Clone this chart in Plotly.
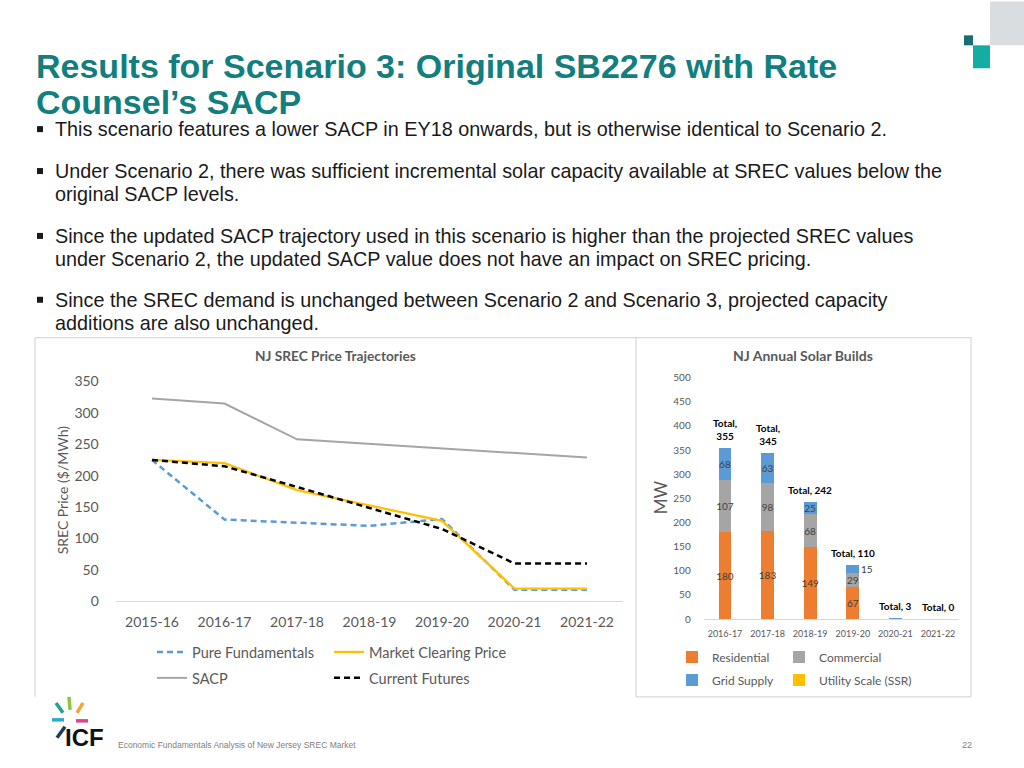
import plotly.graph_objects as go

W, H = 1024, 768
# observed page-to-screenshot vertical mapping of the harness: y_screen = A*y + B
A, B = 0.98, 7.6


def px(x):
    return x / W


def py(y):
    return 1 - ((y - B) / A) / H


# ---------------- data ----------------
price_years = ["2015-16", "2016-17", "2017-18", "2018-19", "2019-20", "2020-21", "2021-22"]
pure_fundamentals = [225, 130, 125, 120, 131, 18, 18]
market_clearing = [225, 220, 177, 153, 128, 20, 20]
sacp = [323, 315, 258, 251, 244, 237, 229]
current_futures = [225, 215, 182, 149, 115, 60, 60]

build_years = ["2016-17", "2017-18", "2018-19", "2019-20", "2020-21", "2021-22"]
residential = [180, 183, 149, 67, 0, 0]
commercial = [107, 98, 68, 29, 0, 0]
grid_supply = [68, 63, 25, 15, 3, 0]
utility_scale = [0, 0, 0, 0, 0, 0]
totals = [355, 345, 242, 110, 3, 0]

title_lines = ["Results for Scenario 3: Original SB2276 with Rate", "Counsel\u2019s SACP"]
bullets = [
    ["This scenario features a lower SACP in EY18 onwards, but is otherwise identical to Scenario 2."],
    ["Under Scenario 2, there was sufficient incremental solar capacity available at SREC values below the",
     "original SACP levels."],
    ["Since the updated SACP trajectory used in this scenario is higher than the projected SREC values",
     "under Scenario 2, the updated SACP value does not have an impact on SREC pricing."],
    ["Since the SREC demand is unchanged between Scenario 2 and Scenario 3, projected capacity",
     "additions are also unchanged."],
]

CH_FONT = "Lato, Calibri, sans-serif"
PAGE_FONT = "Liberation Sans, Arial, sans-serif"
GREY_TXT = "#595959"

fig = go.Figure()

# ---------------- left chart: price lines ----------------
fig.add_trace(go.Scatter(x=price_years, y=sacp, name="SACP", mode="lines",
                         line=dict(color="#A5A5A5", width=2), legend="legend2",
                         xaxis="x", yaxis="y"))
fig.add_trace(go.Scatter(x=price_years, y=pure_fundamentals, name="Pure Fundamentals", mode="lines",
                         line=dict(color="#5B9BD5", width=2.5, dash="6px,4px"), legend="legend",
                         xaxis="x", yaxis="y"))
fig.add_trace(go.Scatter(x=price_years, y=market_clearing, name="Market Clearing Price", mode="lines",
                         line=dict(color="#FFC000", width=2.25), legend="legend",
                         xaxis="x", yaxis="y"))
fig.add_trace(go.Scatter(x=price_years, y=current_futures, name="Current Futures", mode="lines",
                         line=dict(color="#000000", width=2.5, dash="6px,4px"), legend="legend2",
                         xaxis="x", yaxis="y"))

# ---------------- right chart: stacked bars ----------------
def seg_text(vals, minv=20):
    return [str(v) if v >= minv else "" for v in vals]


bar_common = dict(xaxis="x2", yaxis="y2", textposition="inside", insidetextanchor="middle",
                  textangle=0, constraintext="none",
                  textfont=dict(family=CH_FONT, size=10, color="#404040"),
                  marker_line_width=0)
fig.add_trace(go.Bar(x=build_years, y=residential, name="Residential", marker_color="#ED7D31",
                     text=seg_text(residential), legend="legend3", legendwidth=62, **bar_common))
fig.add_trace(go.Bar(x=build_years, y=commercial, name="Commercial", marker_color="#A5A5A5",
                     text=seg_text(commercial), legend="legend3", legendwidth=120, **bar_common))
fig.add_trace(go.Bar(x=build_years, y=grid_supply, name="Grid Supply", marker_color="#5B9BD5",
                     text=seg_text(grid_supply), legend="legend4", legendwidth=62, **bar_common))
fig.add_trace(go.Bar(x=build_years, y=utility_scale, name="Utility Scale (SSR)", marker_color="#FFC000",
                     text=seg_text(utility_scale), legend="legend4", legendwidth=120, **bar_common))

annotations = []
stack_tops = [r + c + g + u for r, c, g, u in zip(residential, commercial, grid_supply, utility_scale)]
for yr, top, tot in zip(build_years, stack_tops, totals):
    txt = f"<b>Total,<br>{tot}</b>" if tot > 300 else f"<b>Total, {tot}</b>"
    annotations.append(dict(x=yr, y=top, xref="x2", yref="y2", text=txt, showarrow=False,
                            xanchor="center", yanchor="bottom", yshift=4,
                            font=dict(family=CH_FONT, size=10, color="#000000")))
# small grid-supply segment labelled beside its bar
for yr, r, c, g in zip(build_years, residential, commercial, grid_supply):
    if 10 <= g < 20:
        annotations.append(dict(x=yr, y=r + c + g / 2, xref="x2", yref="y2", text=str(g),
                                showarrow=False, xanchor="left", yanchor="middle", xshift=6,
                                font=dict(family=CH_FONT, size=10, color="#404040")))


def page_text(x, y, text, size, color, family=PAGE_FONT, xanchor="left", angle=0):
    return dict(x=px(x), y=py(y), xref="paper", yref="paper", text=text, showarrow=False,
                xanchor=xanchor, yanchor="middle", textangle=angle,
                font=dict(family=family, size=size, color=color))


# chart titles / axis titles
annotations += [
    page_text(335, 355, "<b>NJ SREC Price Trajectories</b>", 13.7, GREY_TXT, CH_FONT, "center"),
    page_text(62, 490, "SREC Price ($/MWh)", 14, GREY_TXT, CH_FONT, "center", -90),
    page_text(803, 355, "<b>NJ Annual Solar Builds</b>", 14, GREY_TXT, CH_FONT, "center"),
    page_text(660, 497, "MW", 17, GREY_TXT, CH_FONT, "center", -90),
]

# page title
for line, yc in zip(title_lines, [65, 101]):
    annotations.append(page_text(34, yc, f"<b>{line}</b>", 34, "#137E7E"))

# bullets
bullet_y = [[128], [170, 193], [235, 258], [299, 322]]
shapes = []
for lines, ys in zip(bullets, bullet_y):
    for line, yc in zip(lines, ys):
        annotations.append(page_text(53, yc, line, 19.8, "#1A1A1A"))
    shapes.append(dict(type="rect", xref="paper", yref="paper", x0=px(37), x1=px(43),
                       y0=py(ys[0] + 3), y1=py(ys[0] - 3), fillcolor="#1A1A1A", line_width=0))

# footer
annotations += [
    page_text(116, 745, "Economic Fundamentals Analysis of New Jersey SREC Market", 8.5, "#808080"),
    page_text(967, 745, "22", 9, "#808080", xanchor="center"),
    page_text(84, 738, "<b>ICF</b>", 24, "#111111", xanchor="center"),
]

# chart frames
frame = "#D0D0D0"
for (x0, y0, x1, y1) in [(35, 337, 35, 697), (35, 337, 971, 337), (636, 337, 636, 697),
                         (971, 337, 971, 697), (636, 697, 971, 697)]:
    shapes.append(dict(type="line", xref="paper", yref="paper", x0=px(x0), y0=py(y0),
                       x1=px(x1), y1=py(y1), line=dict(color=frame, width=1)))

# top-right decoration
shapes += [
    dict(type="rect", xref="paper", yref="paper", x0=px(990), x1=px(1024), y0=py(44), y1=py(0),
         fillcolor="#D9DDE0", line_width=0),
    dict(type="rect", xref="paper", yref="paper", x0=px(964), x1=px(973), y0=py(44), y1=py(34),
         fillcolor="#176E74", line_width=0),
    dict(type="rect", xref="paper", yref="paper", x0=px(973), x1=px(990), y0=py(67), y1=py(44),
         fillcolor="#13ADA3", line_width=0),
]

# ICF logo rays
for (x0, y0, x1, y1, col) in [(56, 703, 63, 713, "#1BA68F"), (69, 697, 70, 710, "#8CC63F"),
                              (83, 703, 77, 713, "#F4A533"), (52, 720, 64, 720, "#2BA8D8"),
                              (76, 721, 88, 721, "#E5418A"), (65, 727, 57, 738, "#1F3A5F")]:
    shapes.append(dict(type="line", xref="paper", yref="paper", x0=px(x0), y0=py(y0),
                       x1=px(x1), y1=py(y1), line=dict(color=col, width=3.5)))

legend_common = dict(orientation="h", xanchor="left", yanchor="middle", bgcolor="rgba(0,0,0,0)",
                     borderwidth=0, itemclick=False, itemdoubleclick=False, traceorder="normal")

fig.update_layout(
    width=W, height=H, margin=dict(l=0, r=0, t=0, b=0),
    paper_bgcolor="white", plot_bgcolor="white",
    barmode="stack", bargap=0.7,
    uniformtext=dict(minsize=10, mode="show"),
    xaxis=dict(domain=[px(115.75), px(623.25)], range=[-0.5, 6.5], type="category",
               showline=True, linecolor="#D9D9D9", linewidth=1, showgrid=False, zeroline=False,
               ticks="", ticklabelstandoff=8, anchor="y",
               tickfont=dict(family=CH_FONT, size=14, color=GREY_TXT)),
    yaxis=dict(domain=[py(601), py(381)], range=[0, 350], dtick=50, showgrid=False, zeroline=False,
               showline=False, ticks="", ticklabelstandoff=16, anchor="x",
               tickfont=dict(family=CH_FONT, size=14, color=GREY_TXT)),
    xaxis2=dict(domain=[px(703.7), px(959.3)], range=[-0.5, 5.5], type="category",
                showline=True, linecolor="#D9D9D9", linewidth=1, showgrid=False, zeroline=False,
                ticks="", ticklabelstandoff=6, anchor="y2",
                tickfont=dict(family=CH_FONT, size=9, color=GREY_TXT)),
    yaxis2=dict(domain=[py(619), py(377)], range=[0, 500], dtick=50, showgrid=False, zeroline=False,
                showline=False, ticks="", ticklabelstandoff=12, anchor="x2",
                tickfont=dict(family=CH_FONT, size=10, color=GREY_TXT)),
    legend=dict(x=px(152), y=py(652), entrywidth=132,
                font=dict(family=CH_FONT, size=14.5, color=GREY_TXT), **legend_common),
    legend2=dict(x=px(152), y=py(678), entrywidth=132,
                 font=dict(family=CH_FONT, size=14.5, color=GREY_TXT), **legend_common),
    legend3=dict(x=px(672), y=py(657),
                 font=dict(family=CH_FONT, size=12, color=GREY_TXT), **legend_common),
    legend4=dict(x=px(672), y=py(680),
                 font=dict(family=CH_FONT, size=12, color=GREY_TXT), **legend_common),
    annotations=annotations,
    shapes=shapes,
)

fig.write_html("out.html", config={"staticPlot": True, "displayModeBar": False},
               post_script="document.body.style.margin='0';document.body.style.overflow='hidden';")
